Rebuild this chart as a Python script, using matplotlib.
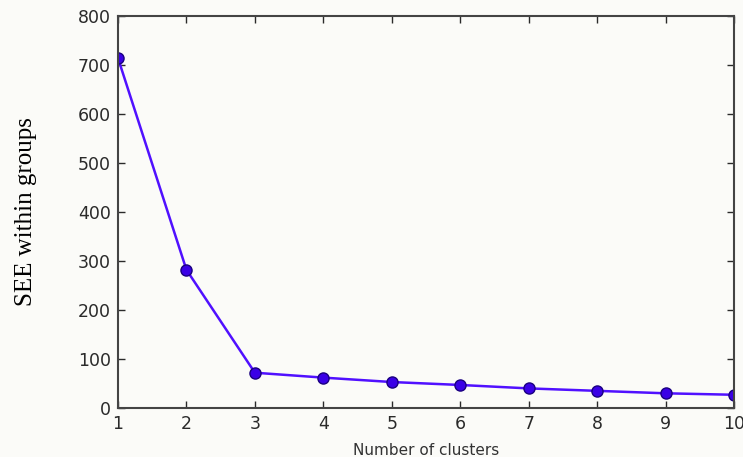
import matplotlib
matplotlib.use('Agg')
import matplotlib.pyplot as plt

clusters = [1, 2, 3, 4, 5, 6, 7, 8, 9, 10]
see = [714, 282, 72, 62, 53, 47, 40, 35, 30, 27]

fig = plt.figure(figsize=(7.43, 4.57), dpi=100, facecolor='#fbfbf8')
ax = fig.add_axes([118 / 743, 1 - 408 / 457, (734 - 118) / 743, (408 - 16) / 457])
ax.set_facecolor('#fbfbf8')

ax.plot(clusters, see, color='#5010ff', lw=1.8, marker='o', ms=8,
        mfc='#3a00e6', mec='#1a0080', mew=1)

ax.set_xlim(1, 10)
ax.set_ylim(0, 800)
ax.set_xticks(clusters)
ax.set_yticks(range(0, 801, 100))
ax.tick_params(direction='in', top=True, right=True, length=5, width=1,
               labelsize=12.5, colors='#2a2a2a', pad=5)
for s in ax.spines.values():
    s.set_color('#444444')
    s.set_linewidth(1.5)

ax.set_xlabel('Number of clusters', fontsize=11, color='#333333', labelpad=7)
fig.text(26 / 743, 1 - 212 / 457, 'SEE within groups', rotation=90,
         family='Liberation Serif', fontsize=18, ha='center', va='center')

fig.savefig('out.png', dpi=100, facecolor=fig.get_facecolor())
